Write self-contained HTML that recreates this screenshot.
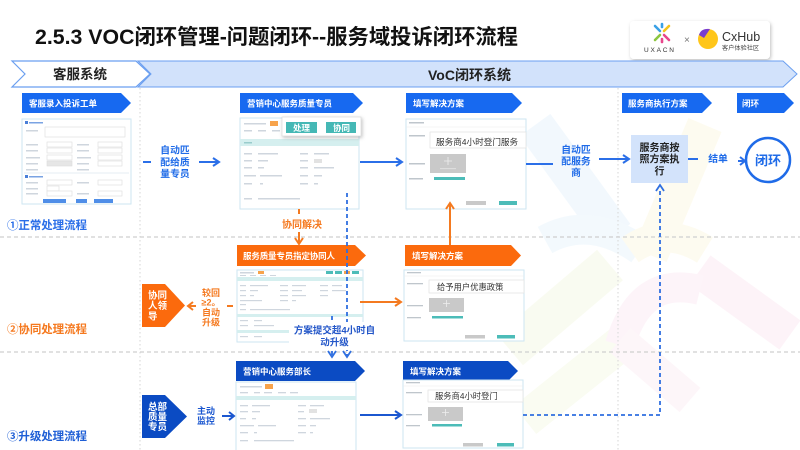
<!DOCTYPE html>
<html><head><meta charset="utf-8"><style>
html,body{margin:0;padding:0;background:#fff;}
svg{display:block;font-family:"Liberation Sans","Noto Sans CJK SC",sans-serif;}
</style></head><body>
<svg width="800" height="450" viewBox="0 0 800 450" xmlns="http://www.w3.org/2000/svg">
<defs>
<filter id="sh" x="-20%" y="-30%" width="140%" height="170%"><feDropShadow dx="1" dy="1.5" stdDeviation="1.8" flood-color="#000" flood-opacity="0.25"/></filter>
</defs>
<rect width="800" height="450" fill="#fff"/>

<!-- watermark -->
<g fill="none" stroke-linecap="butt" opacity="0.5">
<path d="M535 125 L615 235" stroke="#e7f3fc" stroke-width="38"/>
<path d="M545 240 Q590 215 640 250" stroke="#e8f4fc" stroke-width="30"/>
<path d="M705 125 L650 255" stroke="#fdf8e3" stroke-width="36"/>
<path d="M630 250 Q665 225 705 250" stroke="#fdf8e3" stroke-width="30"/>
<path d="M510 350 L610 265" stroke="#f5f9e4" stroke-width="40"/>
<path d="M525 420 L625 340" stroke="#f6fae6" stroke-width="36"/>
<path d="M700 270 L790 335" stroke="#fce9f3" stroke-width="36"/>
<path d="M620 345 Q640 275 700 290" stroke="#fcebf4" stroke-width="30"/>
<path d="M620 340 L690 400" stroke="#fdeef5" stroke-width="32"/>
</g>

<!-- title -->
<text x="35" y="44" font-size="21" font-weight="bold" fill="#111" textLength="483" lengthAdjust="spacingAndGlyphs">2.5.3 VOC闭环管理-问题闭环--服务域投诉闭环流程</text>

<!-- logo box -->
<rect x="630" y="21" width="140" height="38" rx="4" fill="#fff" filter="url(#sh)"/>
<g stroke-width="2.6" stroke-linecap="round">
<line x1="655" y1="26" x2="660" y2="31" stroke="#39a0e6"/>
<line x1="669" y1="26" x2="664" y2="31" stroke="#f3c41b"/>
<line x1="655" y1="40" x2="660" y2="35" stroke="#8cc63f"/>
<line x1="669" y1="40" x2="664" y2="35" stroke="#e8468c"/>
<line x1="662" y1="24" x2="662" y2="27" stroke="#39a0e6"/>
<line x1="662" y1="39" x2="662" y2="42" stroke="#e8468c"/>
</g>
<text x="644" y="52" font-size="6.5" fill="#333" letter-spacing="1.8">UXACN</text>
<text x="684" y="43" font-size="10" fill="#777">×</text>
<circle cx="708" cy="39" r="10" fill="#ffc61a"/>
<path d="M699 35 Q701 28 710 29 L704 38 Z" fill="#7a3dd0"/>
<text x="722" y="41" font-size="12.5" fill="#333">CxHub</text>
<text x="722" y="50" font-size="6.2" fill="#444">客户体验社区</text>

<!-- header band -->
<polygon points="138,61 783,61 797,74 783,87 138,87 151,74" fill="#d2e2fb" stroke="#6b9ff0" stroke-width="1"/>
<polygon points="12,61 136,61 150,74 136,87 12,87 25,74" fill="#fff" stroke="#6b9ff0" stroke-width="1.2"/>
<text x="53" y="79" font-size="13.5" font-weight="bold" fill="#222">客服系统</text>
<text x="428" y="80" font-size="14" font-weight="bold" fill="#222">VoC闭环系统</text>

<!-- dividers -->
<line x1="140" y1="88" x2="140" y2="450" stroke="#dcdcdc" stroke-width="1.2" stroke-dasharray="1.5,2.5"/>
<line x1="618" y1="88" x2="618" y2="450" stroke="#dcdcdc" stroke-width="1.2" stroke-dasharray="1.5,2.5"/>
<line x1="0" y1="237" x2="800" y2="237" stroke="#cfcfcf" stroke-width="1.2" stroke-dasharray="4,3"/>
<line x1="0" y1="352" x2="800" y2="352" stroke="#cfcfcf" stroke-width="1.2" stroke-dasharray="4,3"/>

<!-- row1 banners -->
<g fill="#1769f0">
<polygon points="22,93 121,93 131,103 121,113 22,113"/>
<polygon points="240,93 353,93 363,103 353,113 240,113"/>
<polygon points="406,93 512,93 522,103 512,113 406,113"/>
<polygon points="622,93 702,93 712,103 702,113 622,113"/>
<polygon points="737,93 784,93 794,103 784,113 737,113"/>
</g>
<g font-size="8.5" font-weight="bold" fill="#fff">
<text x="29" y="106.5">客服录入投诉工单</text>
<text x="247" y="106.5">营销中心服务质量专员</text>
<text x="413" y="106.5">填写解决方案</text>
<text x="628" y="106.5">服务商执行方案</text>
<text x="742" y="106.5">闭环</text>
</g>

<!-- row2 banners -->
<g fill="#fb6a0d">
<polygon points="237,245 355,245 366,255.5 355,266 237,266"/>
<polygon points="405,245 511,245 521,255.5 511,266 405,266"/>
</g>
<g font-size="8.5" font-weight="bold" fill="#fff">
<text x="243" y="259" textLength="92">服务质量专员指定协同人</text>
<text x="412" y="259">填写解决方案</text>
</g>

<!-- row3 banners -->
<g fill="#0b4bc3">
<polygon points="236,361 355,361 365,371 355,381 236,381"/>
<polygon points="403,361 508,361 518,371 508,381 403,381"/>
</g>
<g font-size="8.5" font-weight="bold" fill="#fff">
<text x="243" y="374.5">营销中心服务部长</text>
<text x="410" y="374.5">填写解决方案</text>
</g>

<!-- FORM 1 -->
<rect x="22" y="119" width="109" height="85" fill="#fff" stroke="#cde6f2"/>
<g fill="#cfd6de">
<rect x="25" y="121" width="3" height="3" fill="#4a7fd8"/><rect x="29" y="122" width="14" height="1.5" fill="#7aa3e3"/>
<rect x="26" y="130" width="12" height="1.5"/>
<rect x="26" y="144" width="12" height="1.5"/><rect x="77" y="144" width="12" height="1.5"/>
<rect x="26" y="150" width="12" height="1.5"/><rect x="77" y="150" width="12" height="1.5"/>
<rect x="26" y="157" width="14" height="1.5"/><rect x="77" y="157" width="14" height="1.5"/>
<rect x="26" y="163" width="12" height="1.5"/><rect x="77" y="163" width="12" height="1.5"/>
<rect x="26" y="169" width="12" height="1.5"/><rect x="77" y="169" width="12" height="1.5"/>
<rect x="25" y="175" width="3" height="3" fill="#4a7fd8"/><rect x="29" y="176" width="14" height="1.5" fill="#7aa3e3"/>
<rect x="26" y="182" width="12" height="1.5"/><rect x="77" y="182" width="12" height="1.5"/>
<rect x="26" y="188" width="12" height="1.5"/>
<rect x="26" y="193" width="12" height="1.5"/><rect x="77" y="193" width="12" height="1.5"/>
</g>
<g fill="#fff" stroke="#dcdcdc" stroke-width="0.6">
<rect x="45" y="127" width="80" height="10"/>
<rect x="47" y="142" width="25" height="5"/><rect x="98" y="142" width="24" height="5"/>
<rect x="47" y="148" width="25" height="5"/><rect x="98" y="148" width="24" height="5"/>
<rect x="47" y="155" width="25" height="5"/><rect x="98" y="155" width="24" height="5"/>
<rect x="47" y="161" width="25" height="5" fill="#e6e6e6"/><rect x="98" y="161" width="24" height="5"/>
<rect x="47" y="180" width="25" height="5"/><rect x="98" y="180" width="24" height="5"/>
<rect x="47" y="186" width="12" height="5"/>
<rect x="47" y="191" width="25" height="5"/><rect x="98" y="191" width="24" height="5"/>
</g>
<line x1="24" y1="173" x2="129" y2="173" stroke="#e6eef3"/>
<g fill="#4f8ee8">
<rect x="43" y="199" width="23" height="4"/><rect x="76" y="199" width="11" height="4"/><rect x="94" y="199" width="19" height="4"/>
</g>

<!-- FORM 2 (row1 detail) -->
<rect x="240" y="118" width="119" height="91" fill="#fff" stroke="#cde6f2"/>
<g fill="#cfd6de">
<rect x="244" y="123" width="22" height="1.5"/><rect x="270" y="121" width="8" height="5" fill="#f7a34b"/>
<rect x="244" y="130" width="8" height="1.5"/><rect x="258" y="130" width="8" height="1.5"/><rect x="272" y="130" width="8" height="1.5"/>
<rect x="240" y="139" width="119" height="7" fill="#d5efef"/>
<rect x="244" y="142" width="8" height="1.5" fill="#9cc"/>
<rect x="244" y="153" width="8" height="1.5"/><rect x="258" y="153" width="20" height="1.5"/><rect x="300" y="153" width="8" height="1.5"/><rect x="314" y="153" width="15" height="1.5"/>
<rect x="244" y="160" width="8" height="1.5"/><rect x="258" y="160" width="10" height="1.5"/><rect x="300" y="160" width="8" height="1.5"/><rect x="314" y="159" width="8" height="4" fill="#e2e2e2"/>
<rect x="244" y="167" width="8" height="1.5"/><rect x="258" y="167" width="6" height="1.5"/><rect x="300" y="167" width="8" height="1.5"/><rect x="314" y="167" width="20" height="1.5"/>
<rect x="244" y="175" width="12" height="1.5"/><rect x="260" y="175" width="22" height="1.5"/><rect x="300" y="175" width="8" height="1.5"/><rect x="314" y="175" width="8" height="1.5"/>
<rect x="244" y="183" width="8" height="1.5"/><rect x="260" y="183" width="3" height="1.5"/><rect x="300" y="183" width="8" height="1.5"/><rect x="314" y="183" width="4" height="1.5"/>
<rect x="244" y="198" width="8" height="1.5"/><rect x="258" y="198" width="42" height="1.5"/>
</g>
<rect x="282" y="117" width="79" height="19" fill="#fff" stroke="#d6d6d6" stroke-width="0.6" filter="url(#sh)"/>
<rect x="286" y="122" width="31" height="11" fill="#45b8b5"/>
<rect x="326" y="122" width="30" height="11" fill="#45b8b5"/>
<text x="293" y="131" font-size="8.5" font-weight="bold" fill="#fff">处理</text>
<text x="333" y="131" font-size="8.5" font-weight="bold" fill="#fff">协同</text>

<!-- FORM 3 (row1 solution) -->
<rect x="406" y="119" width="120" height="90" fill="#fff" stroke="#cde6f2"/>
<line x1="406" y1="127" x2="526" y2="127" stroke="#eaeaea" stroke-width="0.6"/>
<g fill="#bfc6cc">
<rect x="409" y="122" width="15" height="1.5"/><rect x="409" y="135" width="16" height="1.5"/><rect x="409" y="163" width="16" height="1.5"/><rect x="409" y="178" width="14" height="1.5"/>
</g>
<rect x="430" y="132" width="96" height="16" fill="#fff" stroke="#e2e2e2" stroke-width="0.7"/>
<text x="436" y="145" font-size="8.6" fill="#333">服务商4小时登门服务</text>
<rect x="430" y="154" width="36" height="19" fill="#c9c9c9"/>
<path d="M448 157 v8 M444 161 h8" stroke="#eee" stroke-width="0.8"/>
<rect x="440" y="168" width="16" height="1.2" fill="#ddd"/>
<rect x="434" y="177" width="31" height="3" fill="#4cbcb8"/>
<rect x="466" y="201" width="20" height="4" fill="#c9c9c9"/><rect x="499" y="201" width="18" height="4" fill="#4cbcb8"/>

<!-- FORM 2b (row2 detail) -->
<rect x="237" y="270" width="126" height="72" fill="#fff" stroke="#cde6f2"/>
<g fill="#cfd6de">
<rect x="240" y="272" width="14" height="1.5"/><rect x="258" y="271" width="6" height="3" fill="#f7a34b"/>
<rect x="326" y="271" width="7" height="3" fill="#4cbcb8"/><rect x="335" y="271" width="7" height="3" fill="#4cbcb8"/><rect x="344" y="271" width="6" height="3" fill="#f7a34b"/><rect x="352" y="271" width="7" height="3" fill="#4cbcb8"/>
<rect x="240" y="275" width="6" height="1"/><rect x="250" y="275" width="6" height="1"/><rect x="260" y="275" width="6" height="1"/><rect x="270" y="275" width="6" height="1"/>
<rect x="237" y="277" width="126" height="4" fill="#d5efef"/>
<rect x="240" y="285" width="6" height="1.2"/><rect x="250" y="285" width="18" height="1.2"/><rect x="280" y="285" width="8" height="1.2"/><rect x="292" y="285" width="14" height="1.2"/><rect x="320" y="285" width="8" height="1.2"/><rect x="332" y="285" width="10" height="1.2"/>
<rect x="240" y="290" width="6" height="1.2"/><rect x="250" y="290" width="8" height="1.2"/><rect x="280" y="290" width="8" height="1.2"/><rect x="292" y="290" width="10" height="1.2"/><rect x="320" y="290" width="8" height="1.2"/><rect x="332" y="290" width="14" height="1.2"/>
<rect x="240" y="295" width="6" height="1.2"/><rect x="250" y="295" width="4" height="1.2"/><rect x="280" y="295" width="8" height="1.2"/><rect x="292" y="295" width="14" height="1.2"/><rect x="320" y="295" width="8" height="1.2"/>
<rect x="240" y="300" width="22" height="1.2"/><rect x="280" y="300" width="8" height="1.2"/><rect x="292" y="300" width="4" height="1.2"/>
<rect x="240" y="304" width="6" height="1.2"/>
<rect x="240" y="309" width="6" height="1.2"/><rect x="250" y="309" width="40" height="1.2"/>
<rect x="237" y="314" width="126" height="3" fill="#d5efef"/>
<rect x="240" y="320" width="8" height="1.2"/><rect x="254" y="320" width="8" height="1.2"/>
<rect x="240" y="325" width="8" height="1.2"/><rect x="254" y="325" width="20" height="1.2"/>
<rect x="237" y="330" width="126" height="3" fill="#d5efef"/>
<rect x="240" y="336" width="8" height="1.2"/><rect x="254" y="336" width="8" height="1.2"/>
</g>

<!-- FORM 3b (row2 solution) -->
<rect x="404" y="270" width="120" height="71" fill="#fff" stroke="#cde6f2"/>
<line x1="404" y1="276" x2="524" y2="276" stroke="#eaeaea" stroke-width="0.6"/>
<g fill="#bfc6cc">
<rect x="407" y="272" width="14" height="1.3"/><rect x="407" y="283" width="16" height="1.3"/><rect x="407" y="305" width="16" height="1.3"/><rect x="407" y="317" width="14" height="1.3"/>
</g>
<rect x="429" y="280" width="95" height="13" fill="#fff" stroke="#e2e2e2" stroke-width="0.7"/>
<text x="437" y="290" font-size="8.3" fill="#333">给予用户优惠政策</text>
<rect x="429" y="298" width="35" height="14" fill="#c9c9c9"/>
<path d="M446.5 300 v7 M443 303.5 h7" stroke="#eee" stroke-width="0.8"/>
<rect x="432" y="316" width="31" height="2.5" fill="#4cbcb8"/>
<rect x="465" y="335" width="20" height="3.5" fill="#c9c9c9"/><rect x="497" y="335" width="18" height="3.5" fill="#4cbcb8"/>

<!-- FORM 3a (row3 detail) -->
<rect x="236" y="382" width="120" height="70" fill="#fff" stroke="#cde6f2"/>
<g fill="#cfd6de">
<rect x="240" y="386" width="22" height="1.5"/><rect x="265" y="384" width="8" height="5" fill="#f7a34b"/>
<rect x="240" y="392" width="8" height="1.3"/><rect x="254" y="392" width="6" height="1.3"/><rect x="264" y="392" width="8" height="1.3"/><rect x="278" y="392" width="8" height="1.3"/><rect x="290" y="392" width="8" height="1.3"/>
<rect x="236" y="396" width="120" height="4" fill="#d5efef"/>
<rect x="240" y="405" width="8" height="1.3"/><rect x="252" y="405" width="18" height="1.3"/><rect x="298" y="405" width="8" height="1.3"/><rect x="310" y="405" width="14" height="1.3"/>
<rect x="240" y="411" width="8" height="1.3"/><rect x="252" y="411" width="8" height="1.3"/><rect x="298" y="411" width="6" height="1.3"/><rect x="309" y="409" width="8" height="4" fill="#e2e2e2"/>
<rect x="240" y="418" width="6" height="1.3"/><rect x="252" y="418" width="4" height="1.3"/><rect x="298" y="418" width="8" height="1.3"/><rect x="310" y="418" width="20" height="1.3"/>
<rect x="240" y="425" width="14" height="1.3"/><rect x="258" y="425" width="18" height="1.3"/><rect x="298" y="425" width="8" height="1.3"/><rect x="310" y="425" width="6" height="1.3"/>
<rect x="240" y="432" width="8" height="1.3"/><rect x="254" y="432" width="3" height="1.3"/><rect x="298" y="432" width="8" height="1.3"/><rect x="310" y="432" width="3" height="1.3"/>
<rect x="240" y="440" width="8" height="1.3"/><rect x="254" y="440" width="40" height="1.3"/>
</g>

<!-- FORM 3c (row3 solution) -->
<rect x="403" y="380" width="120" height="68" fill="#fff" stroke="#cde6f2"/>
<line x1="403" y1="386" x2="523" y2="386" stroke="#eaeaea" stroke-width="0.6"/>
<g fill="#bfc6cc">
<rect x="406" y="382" width="14" height="1.3"/><rect x="406" y="392" width="16" height="1.3"/><rect x="406" y="414" width="16" height="1.3"/><rect x="406" y="425" width="14" height="1.3"/>
</g>
<rect x="428" y="390" width="95" height="12" fill="#fff" stroke="#e2e2e2" stroke-width="0.7"/>
<text x="435" y="399" font-size="8.3" fill="#333">服务商4小时登门</text>
<rect x="428" y="407" width="35" height="14" fill="#c9c9c9"/>
<path d="M445.5 409 v7 M442 412.5 h7" stroke="#eee" stroke-width="0.8"/>
<rect x="432" y="424" width="30" height="2.5" fill="#4cbcb8"/>
<rect x="463" y="443" width="20" height="3.5" fill="#c9c9c9"/><rect x="497" y="443" width="17" height="3.5" fill="#4cbcb8"/>

<!-- ROW1 connectors -->
<g stroke="#2b6fe8" stroke-width="2" fill="none">
<line x1="143" y1="162" x2="151" y2="162"/>
<line x1="199" y1="162" x2="219" y2="162"/><polyline points="213,158 219,162 213,166"/>
<line x1="360" y1="162" x2="402" y2="162"/><polyline points="396,158 402,162 396,166"/>
<line x1="526" y1="164" x2="553" y2="164"/>
<line x1="599" y1="159" x2="629" y2="159"/><polyline points="623,155 629,159 623,163"/>
<line x1="688" y1="159" x2="698" y2="159"/>
<line x1="738" y1="161" x2="745" y2="161"/><polyline points="740,157 745,161 740,165"/>
</g>
<g font-weight="bold" fill="#1f6be8" font-size="9.8" text-anchor="middle">
<text x="175" y="153.5">自动匹</text>
<text x="175" y="165.5">配给质</text>
<text x="175" y="177">量专员</text>
<text x="576" y="153">自动匹</text>
<text x="576" y="164.5">配服务</text>
<text x="576" y="176">商</text>
<text x="718" y="162">结单</text>
</g>
<rect x="631" y="135" width="57" height="48" fill="#d3e3fb"/>
<g font-weight="bold" fill="#222" font-size="10" text-anchor="middle">
<text x="659.5" y="151">服务商按</text>
<text x="659.5" y="162.5">照方案执</text>
<text x="659.5" y="174.5">行</text>
</g>
<circle cx="768" cy="160" r="22" fill="#fff" stroke="#1f6be8" stroke-width="2.5"/>
<text x="768" y="165" font-size="13" font-weight="bold" fill="#1f6be8" text-anchor="middle">闭环</text>

<text x="7" y="229" font-size="11.5" font-weight="bold" fill="#2a6ee8" textLength="80">①正常处理流程</text>

<!-- orange connectors -->
<g stroke="#f47a20" stroke-width="2" fill="none">
<line x1="299" y1="209" x2="299" y2="214"/>
<line x1="299" y1="232" x2="299" y2="243"/><polyline points="295,238 299,244 303,238"/>
<line x1="450" y1="245" x2="450" y2="204"/><polyline points="446,209 450,203 454,209"/>
<line x1="360" y1="302" x2="401" y2="302"/><polyline points="395,298 401,302 395,306"/>
<line x1="188" y1="306" x2="196" y2="306"/><polyline points="193,302 188,306 193,310"/>
<line x1="227" y1="306" x2="233" y2="306"/>
</g>
<text x="302" y="228" font-size="10" font-weight="bold" fill="#f5791f" text-anchor="middle">协同解决</text>
<polygon points="142,284 165,284 185,305.5 165,327 142,327" fill="#fb6a0d"/>
<g font-size="9.5" font-weight="bold" fill="#fff">
<text x="148" y="298.5">协同</text>
<text x="148" y="309">人领</text>
<text x="148" y="319.5">导</text>
</g>
<g font-size="9" font-weight="bold" fill="#f5791f" text-anchor="middle">
<text x="211" y="296">较回</text>
<text x="211" y="305.5">≥2。</text>
<text x="211" y="315.5">自动</text>
<text x="211" y="325.5">升级</text>
</g>
<text x="7" y="333" font-size="11.5" font-weight="bold" fill="#f5791f" textLength="80">②协同处理流程</text>

<!-- blue dashed escalation -->
<g stroke="#2f6fe0" stroke-width="1.8" fill="none">
<line x1="347" y1="193" x2="347" y2="356" stroke-dasharray="4,3"/>
<polyline points="343,351 347,357 351,351"/>
<line x1="332" y1="316" x2="332" y2="356" stroke-dasharray="4,3"/>
<polyline points="328,351 332,357 336,351"/>
</g>
<rect x="289" y="322" width="91" height="28" fill="#fff"/>
<g font-size="9.5" font-weight="bold" fill="#2356c8" text-anchor="middle">
<text x="334.5" y="333.5">方案提交超4小时自</text>
<text x="334.5" y="345.5">动升级</text>
</g>

<!-- row3 connectors -->
<polygon points="142,395 165,395 187,416.5 165,438 142,438" fill="#0b4bc3"/>
<g font-size="9.5" font-weight="bold" fill="#fff">
<text x="148" y="410">总部</text>
<text x="148" y="420">质量</text>
<text x="148" y="430">专员</text>
</g>
<g font-size="9" font-weight="bold" fill="#1b57d0" text-anchor="middle">
<text x="206" y="414">主动</text>
<text x="206" y="424">监控</text>
</g>
<g stroke="#1b57d0" stroke-width="2" fill="none">
<line x1="222" y1="416" x2="234" y2="416"/><polyline points="229,412 234,416 229,420"/>
<line x1="360" y1="415" x2="401" y2="415"/><polyline points="395,411 401,415 395,419"/>
</g>
<g stroke="#2f6fe0" stroke-width="1.8" fill="none">
<polyline points="523,415 660,415 660,189" stroke-dasharray="4,3"/>
<polyline points="656,191 660,185 664,191"/>
</g>
<text x="7" y="440" font-size="11.5" font-weight="bold" fill="#1f5fd6" textLength="80">③升级处理流程</text>
</svg>
</body></html>
